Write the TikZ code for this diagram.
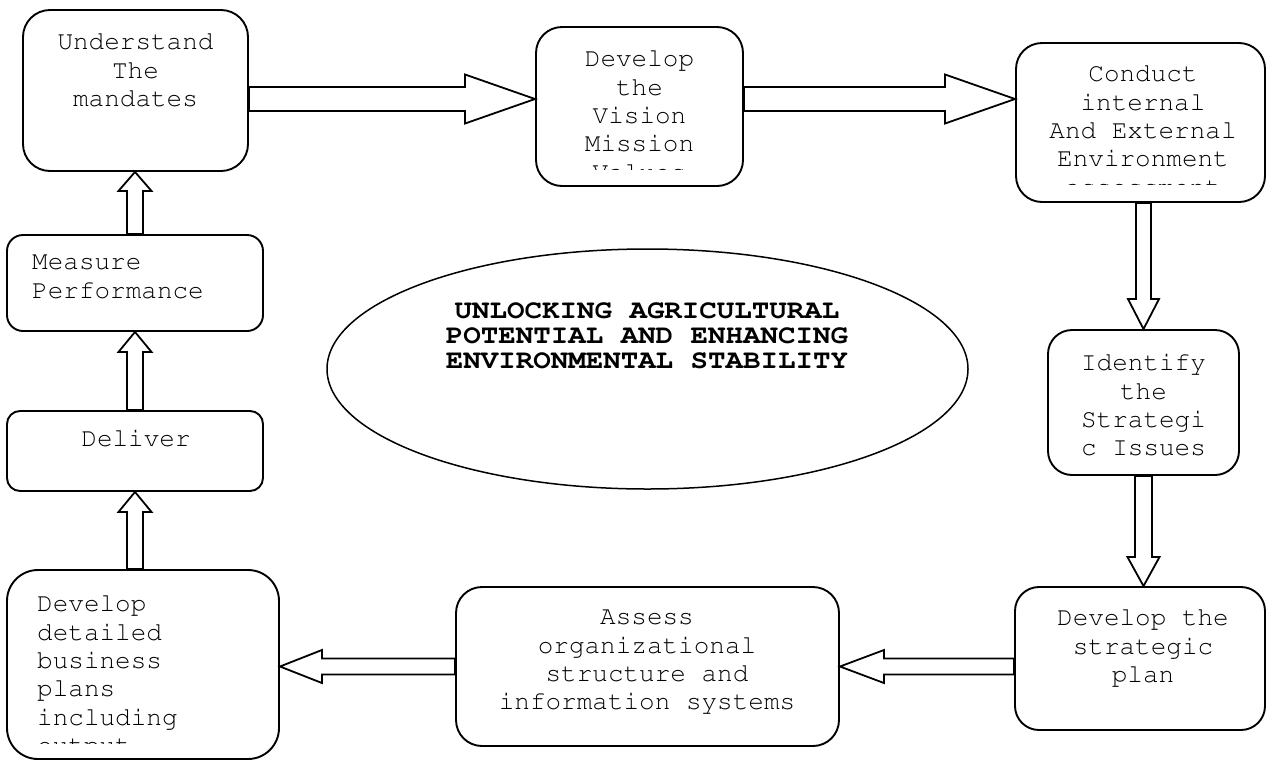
\documentclass[tikz,border=0pt]{standalone}
\usepackage[T1]{fontenc}
\usepackage{graphicx}
\usetikzlibrary{calc,shapes.geometric}

\newcommand{\cour}{\fontfamily{pcr}\selectfont}
% slightly widened line for the heading in the ellipse
\newcommand{\wide}[1]{\scalebox{1.1}[1]{#1}}

\tikzset{
  stage/.style={draw, line width=1.9pt, rounded corners=#1, inner sep=0pt},
  stage/.default=26pt,
  words/.style={font=\cour\fontsize{26}{28.3}\selectfont, inner sep=0pt, anchor=north, align=center},
  fat/.style={draw, line width=1.8pt, line join=miter},
}

% hollow block arrow from #4 to #5: shaft half width #1, head half width #2, head length #3
\newcommand{\fatarrow}[5]{%
  \coordinate (fa-s) at (#4);
  \coordinate (fa-t) at (#5);
  \coordinate (fa-h) at ($(fa-t)!#3!(fa-s)$);
  \draw[fat] ($(fa-s)!#1!90:(fa-t)$) -- ($(fa-h)!#1!90:(fa-t)$) -- ($(fa-h)!#2!90:(fa-t)$) -- (fa-t)
    -- ($(fa-h)!#2!-90:(fa-t)$) -- ($(fa-h)!#1!-90:(fa-t)$) -- ($(fa-s)!#1!-90:(fa-t)$) -- cycle;}

\begin{document}
\begin{tikzpicture}[x=1pt,y=-1pt]
  \useasboundingbox (0,0) rectangle (1267,761);

  % the cycle of stages
  \node[stage=27pt, minimum width=225pt, minimum height=161pt] (mandates) at (135.5,90.5) {};
  \node[stage, minimum width=207pt, minimum height=159pt] (vision) at (639.5,106.5) {};
  \node[stage, minimum width=249pt, minimum height=159pt] (environment) at (1140.5,122.5) {};
  \node[stage=24pt, minimum width=191pt, minimum height=145pt] (issues) at (1143.5,402.5) {};
  \node[stage=24pt, minimum width=250pt, minimum height=143pt] (plan) at (1140,658.5) {};
  \node[stage, minimum width=383pt, minimum height=159pt] (assess) at (647.5,666.5) {};
  \node[stage=31pt, minimum width=272pt, minimum height=189pt] (business) at (143,664.5) {};
  \node[stage=13pt, minimum width=256pt, minimum height=80pt] (deliver) at (135,451) {};
  \node[stage=16pt, minimum width=256pt, minimum height=96pt] (measure) at (135,283) {};

  % the goal in the middle
  \node[draw, ellipse, line width=1.5pt, minimum width=641pt, minimum height=240pt, inner sep=0pt] (goal) at (647.5,369) {};
  \node[font=\cour\bfseries\fontsize{26.5}{25}\selectfont, align=center, inner sep=0pt] (goaltext) at (647,336)
    {\wide{UNLOCKING AGRICULTURAL}\\\wide{POTENTIAL AND ENHANCING}\\\wide{ENVIRONMENTAL STABILITY}};

  % texts, cut off at the bottom of their frames
  \node[words] (mandatestext) at (135.5,33) {Understand\\The\\mandates};
  \begin{scope}
    \clip (536,27) rectangle (743,169);
    \node[words] (visiontext) at (639.5,50) {Develop\\the\\Vision\\Mission\\Values};
  \end{scope}
  \begin{scope}
    \clip (1016,43) rectangle (1265,184.5);
    \node[words] (environmenttext) at (1143,65) {Conduct\\internal\\And External\\Environment\\assessment};
  \end{scope}
  \node[words] (issuestext) at (1143.5,354) {Identify\\the\\Strategi\\c Issues};
  \node[words] (plantext) at (1143,609) {Develop the\\strategic\\plan};
  \node[words] (assesstext) at (647,610) {Assess\\organizational\\structure and\\information systems};
  \begin{scope}
    \clip (7,570) rectangle (279,743.5);
    \node[words, anchor=north west, align=left] (businesstext) at (37,595)
      {Develop\\detailed\\business\\plans\\including\\output};
  \end{scope}
  \node[words] (delivertext) at (136,430) {Deliver};
  \node[words, anchor=north west, align=left] (measuretext) at (32,255) {Measure\\Performance};

  % arrows
  \fatarrow{12pt}{24.5pt}{70pt}{mandates.east |- 0,99}{vision.west |- 0,99}
  \fatarrow{12pt}{24.5pt}{70pt}{vision.east |- 0,99}{environment.west |- 0,99}
  \fatarrow{7.5pt}{15.5pt}{30pt}{environment.south -| issues.north}{issues.north}
  \fatarrow{8.5pt}{16pt}{29pt}{issues.south}{plan.north -| issues.south}
  \fatarrow{8pt}{16.5pt}{44pt}{plan.west |- assess.east}{assess.east}
  \fatarrow{8pt}{16.5pt}{42pt}{assess.west}{business.east |- assess.west}
  \fatarrow{8pt}{16.5pt}{20pt}{business.north -| deliver.south}{deliver.south}
  \fatarrow{8pt}{16.5pt}{20pt}{deliver.north}{measure.south}
  \fatarrow{8pt}{16.5pt}{19pt}{measure.north}{mandates.south -| measure.north}
\end{tikzpicture}
\end{document}
